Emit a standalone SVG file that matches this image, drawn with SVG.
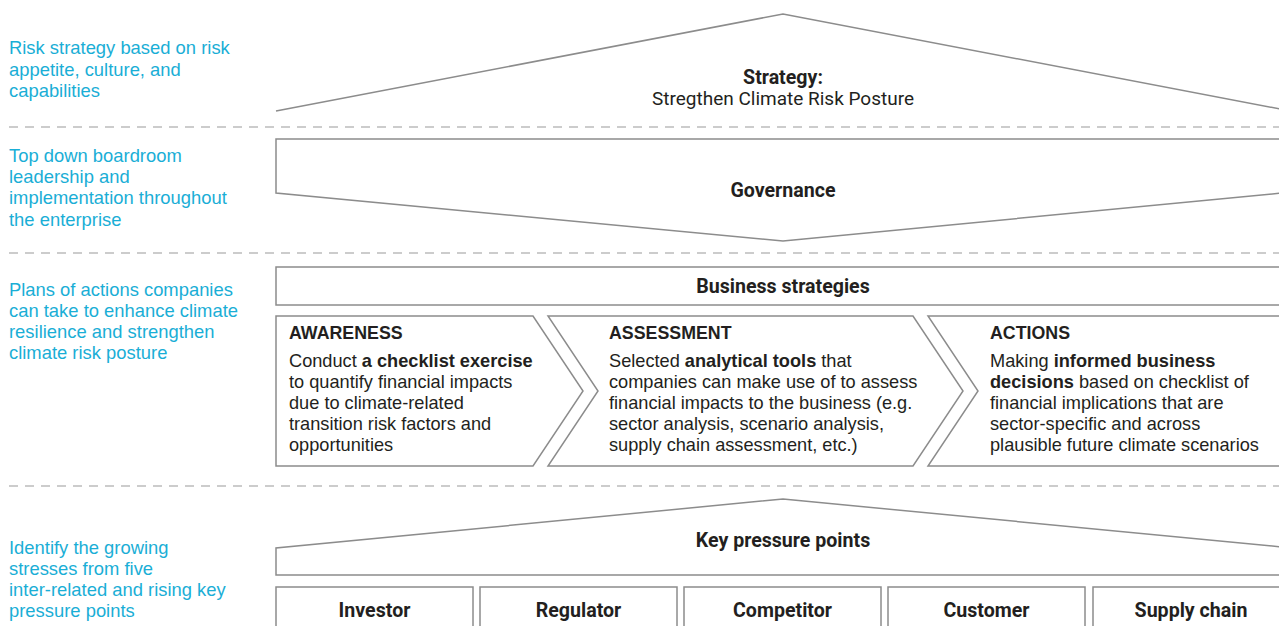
<svg xmlns="http://www.w3.org/2000/svg" width="1279" height="626" viewBox="0 0 1279 626">
<style>
.bg{fill:#fff}
.shape{fill:#fff;stroke:#8c8c8c;stroke-width:1.5}
.dash{stroke:#9a9a9a;stroke-width:1.2;stroke-dasharray:9 7;fill:none}
.side{font-family:"Liberation Sans",Arial,sans-serif;font-size:18.4px;fill:#1aaed6}
.lbl{font-family:Roboto,"Liberation Sans",sans-serif;font-size:19.6px;font-weight:700;fill:#231f20;text-anchor:middle}
.sub{font-family:Roboto,"Liberation Sans",sans-serif;font-size:19px;fill:#231f20;text-anchor:middle}
.body{font-family:"Liberation Sans",Arial,sans-serif;font-size:18.2px;fill:#231f20}
.head{font-family:"Liberation Sans",Arial,sans-serif;font-size:17.8px;font-weight:700;fill:#231f20}
.b{font-weight:700}
</style>
<rect class="bg" x="0" y="0" width="1279" height="626"/>
<g id="separators">
<line class="dash" x1="9" y1="127" x2="1279" y2="127"/>
<line class="dash" x1="9" y1="253" x2="1279" y2="253"/>
<line class="dash" x1="9" y1="486" x2="1279" y2="486"/>
</g>
<g id="side-labels">
<text class="side" x="9" y="54">Risk strategy based on risk</text>
<text class="side" x="9" y="76">appetite, culture, and</text>
<text class="side" x="9" y="97">capabilities</text>
<text class="side" x="9" y="162">Top down boardroom</text>
<text class="side" x="9" y="183">leadership and</text>
<text class="side" x="9" y="204">implementation throughout</text>
<text class="side" x="9" y="226">the enterprise</text>
<text class="side" x="9" y="296">Plans of actions companies</text>
<text class="side" x="9" y="317">can take to enhance climate</text>
<text class="side" x="9" y="338">resilience and strengthen</text>
<text class="side" x="9" y="359">climate risk posture</text>
<text class="side" x="9" y="554">Identify the growing</text>
<text class="side" x="9" y="575">stresses from five</text>
<text class="side" x="9" y="596">inter-related and rising key</text>
<text class="side" x="9" y="617">pressure points</text>
</g>
<g id="strategy">
<polyline class="shape" points="276,111 783,14 1280,109"/>
<text class="lbl" x="783" y="84">Strategy:</text>
<text class="sub" x="783" y="105">Stregthen Climate Risk Posture</text>
</g>
<g id="governance">
<polygon class="shape" points="1282,139 276,139 276,193 783,241 1282,193"/>
<text class="lbl" x="783" y="197">Governance</text>
</g>
<g id="business-strategies">
<rect class="shape" x="276" y="267" width="1010" height="38"/>
<text class="lbl" x="783" y="293">Business strategies</text>
</g>
<g id="awareness">
<polygon class="shape" points="276,316 533,316 583,391 533,466 276,466"/>
<text class="head" x="289" y="339">AWARENESS</text>
<text class="body" x="289" y="367">Conduct <tspan class="b">a checklist exercise</tspan></text>
<text class="body" x="289" y="388">to quantify financial impacts</text>
<text class="body" x="289" y="409">due to climate-related</text>
<text class="body" x="289" y="430">transition risk factors and</text>
<text class="body" x="289" y="451">opportunities</text>
</g>
<g id="assessment">
<polygon class="shape" points="548,316 913,316 963,391 913,466 548,466 598,391"/>
<text class="head" x="609" y="339">ASSESSMENT</text>
<text class="body" x="609" y="367">Selected <tspan class="b">analytical tools</tspan> that</text>
<text class="body" x="609" y="388">companies can make use of to assess</text>
<text class="body" x="609" y="409">financial impacts to the business (e.g.</text>
<text class="body" x="609" y="430">sector analysis, scenario analysis,</text>
<text class="body" x="609" y="451">supply chain assessment, etc.)</text>
</g>
<g id="actions">
<polygon class="shape" points="928,316 1286,316 1286,466 928,466 978,391"/>
<text class="head" x="990" y="339">ACTIONS</text>
<text class="body" x="990" y="367">Making <tspan class="b">informed business</tspan></text>
<text class="body" x="990" y="388"><tspan class="b">decisions</tspan> based on checklist of</text>
<text class="body" x="990" y="409">financial implications that are</text>
<text class="body" x="990" y="430">sector-specific and across</text>
<text class="body" x="990" y="451">plausible future climate scenarios</text>
</g>
<g id="key-pressure-points">
<polygon class="shape" points="1282,575 276,575 276,548 783,499 1282,547"/>
<text class="lbl" x="783" y="547">Key pressure points</text>
</g>
<g id="investor">
<rect class="shape" x="276" y="587" width="197" height="50"/>
<text class="lbl" x="374.5" y="617">Investor</text>
</g>
<g id="regulator">
<rect class="shape" x="480" y="587" width="197" height="50"/>
<text class="lbl" x="578.5" y="617">Regulator</text>
</g>
<g id="competitor">
<rect class="shape" x="684" y="587" width="197" height="50"/>
<text class="lbl" x="782.5" y="617">Competitor</text>
</g>
<g id="customer">
<rect class="shape" x="888" y="587" width="197" height="50"/>
<text class="lbl" x="986.5" y="617">Customer</text>
</g>
<g id="supply-chain">
<rect class="shape" x="1093" y="587" width="197" height="50"/>
<text class="lbl" x="1191" y="617">Supply chain</text>
</g>
<g id="connectors"></g>
</svg>
